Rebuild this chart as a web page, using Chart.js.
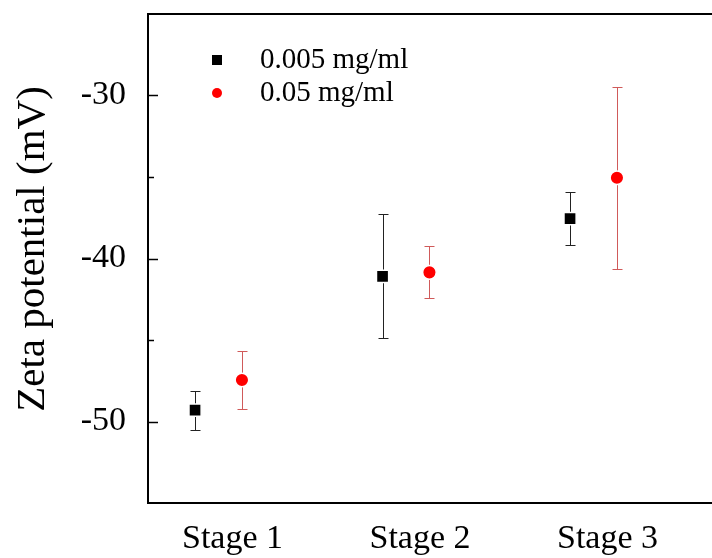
<!DOCTYPE html>
<html lang="en">
<head>
  <meta charset="UTF-8">
  <title>Zeta potential</title>
  <script src="https://cdn.jsdelivr.net/npm/chart.js"></script>
  <style>
    body {
      margin: 0;
      background: #fff;
    }
    .wrap {
      width: 712px;
      height: 558px;
    }
  </style>
</head>
<body>
  <div class="wrap">
    <canvas id="zeta"></canvas>
  </div>

  <script>
    // datos
    const stages = ['Stage 1', 'Stage 2', 'Stage 3'];
    const seriesNames = ['0.005 mg/ml', '0.05 mg/ml'];
    const lowConc = [-49.3, -41.1, -37.55];
    const lowErr = [1.2, 3.8, 1.6];
    const highConc = [-47.45, -40.85, -35.05];
    const highErr = [1.8, 1.6, 5.6];
    const yTicks = [-50, -45, -40, -35, -30];
    const yTitle = 'Zeta potential (mV)';

    const SERIF = '"Liberation Serif", "Times New Roman", serif';

    function puntos(vals, errs, shift) {
      return vals.map((v, i) => ({ x: i + 1 + shift, y: v, err: errs[i] }));
    }

    // barras de error
    const errorBars = {
      id: 'errorBars',
      beforeDatasetsDraw(chart) {
        const ctx = chart.ctx;
        const ys = chart.scales.y, xs = chart.scales.x;
        chart.data.datasets.forEach(ds => {
          ctx.save();
          ctx.strokeStyle = ds.errorColor;
          ctx.lineWidth = 1;
          ds.data.forEach(p => {
            const x = Math.round(xs.getPixelForValue(p.x)) + 0.5;
            const top = Math.round(ys.getPixelForValue(p.y + p.err)) + 0.5;
            const bot = Math.round(ys.getPixelForValue(p.y - p.err)) + 0.5;
            ctx.beginPath();
            ctx.moveTo(x, top); ctx.lineTo(x, bot);
            ctx.moveTo(x - 5, top); ctx.lineTo(x + 5, top);
            ctx.moveTo(x - 5, bot); ctx.lineTo(x + 5, bot);
            ctx.stroke();
          });
          ctx.restore();
        });
      }
    };

    // marco, marcas hacia adentro y titulo del eje y
    const frame = {
      id: 'frame',
      afterDraw(chart) {
        const ctx = chart.ctx;
        const a = chart.chartArea;
        const ys = chart.scales.y;
        ctx.save();
        ctx.strokeStyle = '#000';
        ctx.lineWidth = 2;
        ctx.beginPath();
        ctx.moveTo(chart.width, a.top); ctx.lineTo(a.left, a.top);
        ctx.lineTo(a.left, a.bottom); ctx.lineTo(chart.width, a.bottom);
        ctx.stroke();
        ctx.lineWidth = 1.5;
        yTicks.forEach(v => {
          const y = Math.round(ys.getPixelForValue(v)) + 0.5;
          const len = v % 10 === 0 ? 10 : 6;
          ctx.beginPath();
          ctx.moveTo(a.left, y); ctx.lineTo(a.left + len, y);
          ctx.stroke();
        });
        ctx.translate(33, 249);
        ctx.rotate(-Math.PI / 2);
        ctx.font = '41px ' + SERIF;
        ctx.fillStyle = '#000';
        ctx.textAlign = 'center';
        ctx.textBaseline = 'middle';
        ctx.fillText(yTitle, 0, 0);
        ctx.restore();
      }
    };

    // leyenda dentro del area
    const legendBox = {
      id: 'legendBox',
      afterDraw(chart) {
        const ctx = chart.ctx;
        const a = chart.chartArea;
        ctx.save();
        ctx.font = '29px ' + SERIF;
        ctx.textBaseline = 'middle';
        chart.data.datasets.forEach((ds, i) => {
          const y = a.top + 46 + i * 33;
          const x = a.left + 69;
          ctx.fillStyle = ds.backgroundColor;
          if (ds.pointStyle === 'rect') {
            ctx.fillRect(x - 5, y - 5, 10, 10);
          } else {
            ctx.beginPath();
            ctx.arc(x, y, 5, 0, Math.PI * 2);
            ctx.fill();
          }
          ctx.fillStyle = '#000';
          ctx.fillText(ds.label, a.left + 112, y);
        });
        ctx.restore();
      }
    };

    new Chart(document.getElementById('zeta'), {
      type: 'scatter',
      data: {
        datasets: [
          {
            label: seriesNames[0],
            data: puntos(lowConc, lowErr, -0.125),
            pointStyle: 'rect',
            pointRadius: 8.6,
            pointBorderWidth: 1.5,
            pointBorderColor: '#fff',
            backgroundColor: '#000',
            errorColor: '#222'
          },
          {
            label: seriesNames[1],
            data: puntos(highConc, highErr, 0.125),
            pointStyle: 'circle',
            pointRadius: 6.8,
            pointBorderWidth: 1.5,
            pointBorderColor: '#fff',
            backgroundColor: '#f00',
            errorColor: '#d05a5a'
          }
        ]
      },
      options: {
        responsive: true,
        maintainAspectRatio: false,
        animation: false,
        layout: { autoPadding: false, padding: { top: 14, right: 0, left: 0, bottom: 0 } },
        plugins: {
          legend: { display: false },
          tooltip: { enabled: false }
        },
        scales: {
          x: {
            type: 'linear',
            min: 0.624,
            max: 3.632,
            afterFit(s) {
              s.height = 55;
              s.paddingLeft = 0; s.paddingRight = 0;
            },
            afterBuildTicks(s) { s.ticks = stages.map((_, i) => ({ value: i + 1 })); },
            grid: { display: false },
            border: { display: false },
            ticks: {
              color: '#000',
              font: { family: SERIF, size: 34 },
              padding: 8,
              labelOffset: 14,
              callback: v => stages[v - 1]
            }
          },
          y: {
            min: -55,
            max: -25,
            afterFit(s) {
              s.width = 148;
              s.paddingTop = 0; s.paddingBottom = 0;
            },
            afterBuildTicks(s) { s.ticks = yTicks.map(v => ({ value: v })); },
            grid: { display: false },
            border: { display: false },
            ticks: {
              color: '#000',
              font: { family: SERIF, size: 34 },
              padding: 14,
              callback: v => (v % 10 === 0 ? String(v) : '')
            }
          }
        }
      },
      plugins: [errorBars, frame, legendBox]
    });
  </script>
</body>
</html>
